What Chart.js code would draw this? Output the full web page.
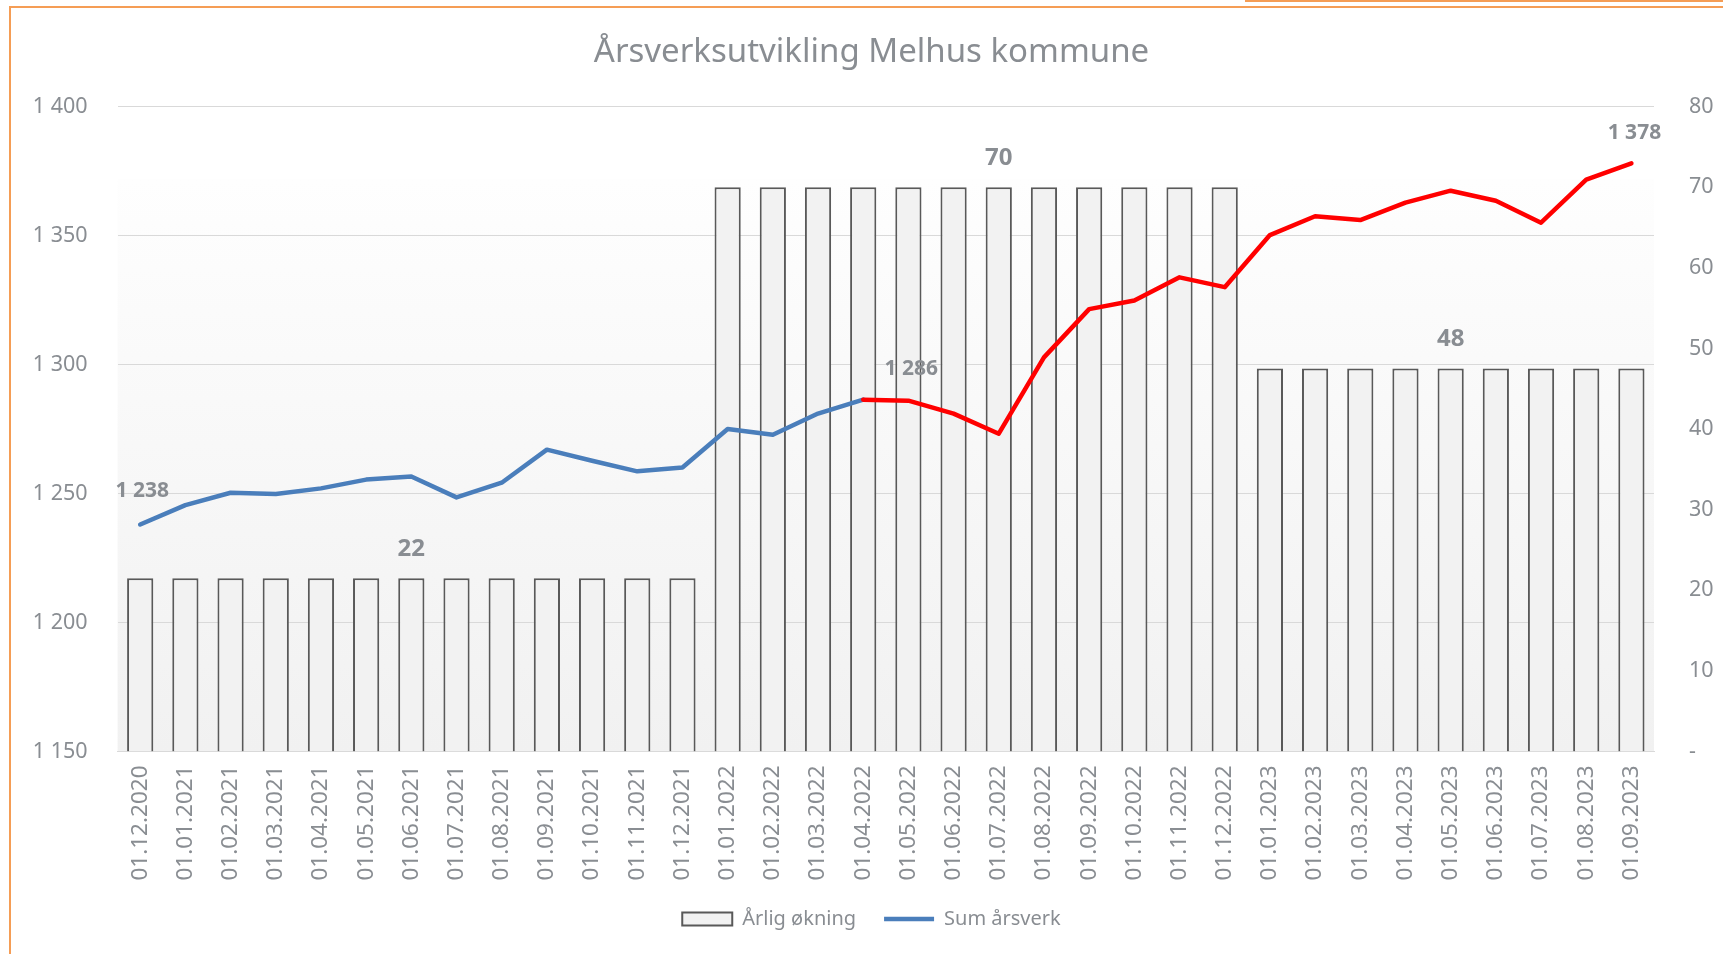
<!DOCTYPE html>
<html>
<head>
<meta charset="utf-8">
<title>Årsverksutvikling Melhus kommune</title>
<script src="https://cdn.jsdelivr.net/npm/chart.js@4.4.1/dist/chart.umd.min.js"></script>
<style>
  html, body { margin: 0; padding: 0; background: #fff; overflow: hidden; }
  #wrap { position: relative; width: 1723px; height: 954px; }
  #frame { position: absolute; left: 9px; top: 6px; right: 0; bottom: 0; border-left: 2px solid #f59d55; border-top: 2px solid #f59d55; pointer-events: none; }
  #frame-top { position: absolute; left: 1245px; top: 0; right: 0; height: 2px; background: #f59d55; pointer-events: none; }
</style>
</head>
<body>
<div id="wrap">
  <canvas id="staffChart"></canvas>
  <div id="frame"></div>
  <div id="frame-top"></div>
</div>
<script>
const months = [
  "01.12.2020", "01.01.2021", "01.02.2021", "01.03.2021", "01.04.2021", "01.05.2021",
  "01.06.2021", "01.07.2021", "01.08.2021", "01.09.2021", "01.10.2021", "01.11.2021",
  "01.12.2021", "01.01.2022", "01.02.2022", "01.03.2022", "01.04.2022", "01.05.2022",
  "01.06.2022", "01.07.2022", "01.08.2022", "01.09.2022", "01.10.2022", "01.11.2022",
  "01.12.2022", "01.01.2023", "01.02.2023", "01.03.2023", "01.04.2023", "01.05.2023",
  "01.06.2023", "01.07.2023", "01.08.2023", "01.09.2023",
];

// Årlig økning (right axis)
const yearlyIncrease = [
  21.5, 21.5, 21.5, 21.5, 21.5, 21.5, 21.5, 21.5, 21.5, 21.5, 21.5, 21.5, 21.5,
  70, 70, 70, 70, 70, 70, 70, 70, 70, 70, 70, 70,
  47.5, 47.5, 47.5, 47.5, 47.5, 47.5, 47.5, 47.5, 47.5,
];

// Sum årsverk (left axis)
const sumStaff = [
  1238, 1245.5, 1250.3, 1249.8, 1252, 1255.4, 1256.6, 1248.5, 1254.2, 1267, 1262.7, 1258.6, 1260.1,
  1275, 1272.8, 1281, 1286.4, 1286, 1281, 1273.2, 1302.8, 1321.5, 1324.8, 1333.8, 1330,
  1350.2, 1357.5, 1356, 1362.8, 1367.4, 1363.5, 1355, 1371.7, 1378,
];

const leftTicks = [1150, 1400, 50];
const rightTicks = [0, 80, 10];

const barLabelIndex = [6, 19, 29];
const lineLabelIndex = [0, 16, 33];
const lineLabelOffset = [[2, -33], [48, -31], [3, -30]];
const redFrom = 16;

const textGray = "#898d92";
const blue = "#4a7ebb";
const red = "#ff0000";

function formatNumber(v) {
  return Math.round(v).toString().replace(/\B(?=(\d{3})+(?!\d))/g, " ");
}

Chart.defaults.font.family = "'Noto Sans', sans-serif";
Chart.defaults.color = textGray;

const plotBackground = {
  id: "plotBackground",
  beforeDraw(chart) {
    const { ctx, chartArea } = chart;
    const top = chart.scales.y1.getPixelForValue(71);
    const grad = ctx.createLinearGradient(0, top, 0, chartArea.bottom);
    grad.addColorStop(0, "#fefefe");
    grad.addColorStop(1, "#f1f1f1");
    ctx.save();
    ctx.fillStyle = grad;
    ctx.fillRect(chartArea.left, top, chartArea.right - chartArea.left, chartArea.bottom - top);
    ctx.restore();
  },
};

const valueLabels = {
  id: "valueLabels",
  afterDatasetsDraw(chart) {
    const ctx = chart.ctx;
    ctx.save();
    ctx.fillStyle = textGray;
    ctx.textAlign = "center";
    ctx.textBaseline = "middle";

    let barMeta = chart.getDatasetMeta(0);
    ctx.font = "bold 24px 'Noto Sans'";
    barLabelIndex.forEach(function (i) {
      let bar = barMeta.data[i];
      ctx.fillText(formatNumber(yearlyIncrease[i]), bar.x, bar.y - 29);
    });

    let lineMeta = chart.getDatasetMeta(1);
    ctx.font = "bold 21px 'Noto Sans'";
    lineLabelIndex.forEach(function (i, k) {
      let pt = lineMeta.data[i];
      ctx.fillText(formatNumber(sumStaff[i]), pt.x + lineLabelOffset[k][0], pt.y + lineLabelOffset[k][1]);
    });
    ctx.restore();
  },
};

const staffChart = new Chart(document.getElementById("staffChart"), {
  type: "bar",
  data: {
    labels: months,
    datasets: [
      {
        type: "bar",
        label: "Årlig økning",
        data: yearlyIncrease,
        yAxisID: "y1",
        backgroundColor: "#f2f2f2",
        borderColor: "#595959",
        borderWidth: 2,
        barPercentage: 0.58,
        categoryPercentage: 1,
        order: 1,
      },
      {
        type: "line",
        label: "Sum årsverk",
        data: sumStaff,
        yAxisID: "y",
        borderColor: blue,
        backgroundColor: blue,
        borderWidth: 4.5,
        pointRadius: 0,
        borderCapStyle: "round",
        borderJoinStyle: "round",
        segment: {
          borderColor: (c) => (c.p0DataIndex >= redFrom ? red : blue),
        },
        order: 0,
      },
    ],
  },
  options: {
    responsive: true,
    maintainAspectRatio: false,
    animation: false,
    layout: { padding: { left: 20, right: 0, top: 0, bottom: 15 } },
    plugins: {
      title: {
        display: true,
        text: "Årsverksutvikling Melhus kommune",
        color: textGray,
        font: { size: 33, weight: "normal" },
        padding: { top: 33, bottom: 34 },
      },
      legend: {
        position: "bottom",
        labels: {
          usePointStyle: true,
          pointStyleWidth: 50,
          boxHeight: 13,
          padding: 28,
          color: textGray,
          font: { size: 20 },
          generateLabels: (chart) =>
            chart.data.datasets.map((ds, i) => ({
              text: ds.label,
              datasetIndex: i,
              fillStyle: ds.backgroundColor,
              strokeStyle: ds.borderColor,
              lineWidth: i === 0 ? 2 : 4.5,
              pointStyle: i === 0 ? "rect" : "line",
              fontColor: textGray,
              hidden: false,
            })),
        },
      },
      tooltip: { enabled: false },
    },
    scales: {
      x: {
        grid: { display: false, drawTicks: false },
        border: { display: true, color: "#d9d9d9" },
        ticks: { minRotation: 90, maxRotation: 90, autoSkip: false, padding: 14, font: { size: 22.5 } },
        afterFit: (scale) => { scale.height = 129.5; },
      },
      y: {
        position: "left",
        min: leftTicks[0],
        max: leftTicks[1],
        ticks: { stepSize: leftTicks[2], padding: 30, font: { size: 21.5 }, callback: (v) => formatNumber(v) },
        grid: { color: "#d9d9d9", drawTicks: false },
        border: { display: false },
        afterFit: (scale) => { scale.width = 97.6; },
      },
      y1: {
        position: "right",
        min: rightTicks[0],
        max: rightTicks[1],
        ticks: { stepSize: rightTicks[2], padding: 35, font: { size: 21.5 }, callback: (v) => (v === 0 ? "-" : v) },
        grid: { display: false, drawTicks: false },
        border: { display: false },
        afterFit: (scale) => { scale.width = 69; },
      },
    },
  },
  plugins: [plotBackground, valueLabels],
});
</script>
</body>
</html>
